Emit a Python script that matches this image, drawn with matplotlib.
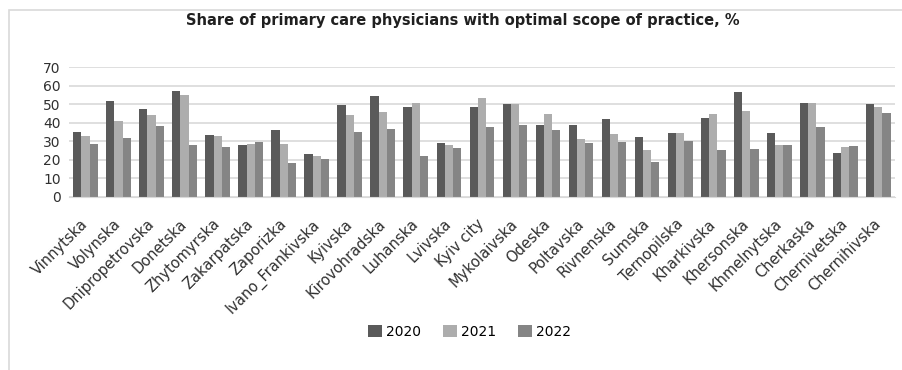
import numpy as np
import matplotlib.pyplot as plt
from matplotlib.patches import Rectangle
from matplotlib.transforms import ScaledTranslation

regions = ["Vinnytska", "Volynska", "Dnipropetrovska", "Donetska", "Zhytomyrska",
           "Zakarpatska", "Zaporizka", "Ivano_Frankivska", "Kyivska", "Kirovohradska",
           "Luhanska", "Lvivska", "Kyiv city", "Mykolaivska", "Odeska", "Poltavska",
           "Rivnenska", "Sumska", "Ternopilska", "Kharkivska", "Khersonska",
           "Khmelnytska", "Cherkaska", "Chernivetska", "Chernihivska"]

share_2020 = [35.2, 51.6, 47.7, 57.2, 33.6, 28.2, 35.9, 23.3, 49.8, 54.5, 48.7, 29.2,
              48.4, 50.2, 39.0, 38.6, 42.1, 32.3, 34.5, 42.8, 56.7, 34.7, 50.7, 23.8, 50.2]
share_2021 = [32.9, 41.0, 44.0, 55.2, 33.0, 28.7, 28.7, 22.2, 44.2, 46.0, 50.9, 28.0,
              53.4, 50.4, 44.8, 31.0, 33.8, 25.1, 34.5, 44.8, 46.4, 27.8, 50.7, 26.9, 48.4]
share_2022 = [28.7, 31.6, 38.4, 28.0, 26.9, 29.4, 18.1, 20.6, 35.0, 36.6, 22.2, 26.2,
              37.7, 38.8, 36.1, 28.9, 29.4, 18.6, 30.0, 25.3, 25.8, 27.8, 37.9, 27.6, 45.1]

years = ["2020", "2021", "2022"]
colors = ["#5a5a5a", "#adadad", "#858585"]

plt.rcParams['font.family'] = ['DejaVu Sans']

fig = plt.figure(figsize=(9.03, 3.70), dpi=100)
ax = fig.add_axes([0.0764, 0.468, 0.9146, 0.350])

x = np.arange(len(regions))
w = 0.25
for i, (vals, yr, c) in enumerate(zip([share_2020, share_2021, share_2022], years, colors)):
    ax.bar(x + (i - 1) * w, vals, width=w, color=c, label=yr, zorder=2)

ax.set_xlim(-0.5, len(regions) - 0.5)
ax.set_ylim(0, 70)
ax.set_yticks(range(0, 71, 10))
ax.yaxis.grid(True, color="#d9d9d9", linewidth=1.2, zorder=0)
ax.set_axisbelow(True)
for s in ["top", "right", "left"]:
    ax.spines[s].set_visible(False)
ax.spines["bottom"].set_color("#d9d9d9")
ax.tick_params(axis="y", length=0, labelsize=10, colors="#303030", pad=6)
ax.tick_params(axis="x", length=0, labelsize=10.5, colors="#303030", pad=14)
ax.set_xticks(x)
ax.set_xticklabels(regions, rotation=45, ha="right", rotation_mode="anchor")
# nudge the slanted labels a little to the left of their ticks
shift = ScaledTranslation(-5 / 100, 0, fig.dpi_scale_trans)
for lbl in ax.get_xticklabels():
    lbl.set_transform(lbl.get_transform() + shift)

fig.text(0.512, 0.945, "Share of primary care physicians with optimal scope of practice, %",
         ha="center", va="center", fontsize=10.5, fontweight="bold", color="#202020")

ax.legend(loc="center", bbox_to_anchor=(0.52, 0.103), bbox_transform=fig.transFigure,
          ncol=3, frameon=False, fontsize=10, handlelength=1.0, handleheight=1.0,
          handletextpad=0.3, columnspacing=1.6)

# outer chart frame
fig.patches.append(Rectangle((0.01, -0.01), 1.2, 0.983, transform=fig.transFigure,
                             fill=False, edgecolor="#d9d9d9", linewidth=1.2))

fig.savefig("out.png", dpi=100)
